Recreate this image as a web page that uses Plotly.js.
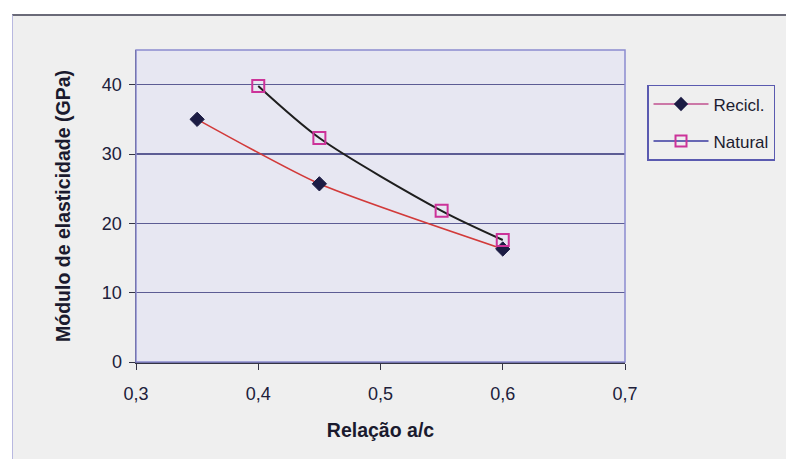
<!DOCTYPE html>
<html>
<head>
<meta charset="utf-8">
<script src="https://cdn.plot.ly/plotly-3.0.1.min.js"></script>
<style>
  html, body { margin: 0; padding: 0; background: #ffffff; }
  #chart {
    position: absolute; left: 12px; top: 14px;
    width: 774px; height: 445px;
    border-top: 2px solid #6a6a78;
    border-left: 1px solid #b8b8e0;
    box-sizing: border-box;
  }
</style>
</head>
<body>
<div id="chart"></div>
<script>
// Relação água/cimento
const relacaoRecicl = [0.35, 0.45, 0.6];
const moduloRecicl = [35, 25.7, 16.3];

const relacaoNatural = [0.4, 0.45, 0.55, 0.6];
const moduloNatural = [39.8, 32.3, 21.8, 17.6];

const xTickVals = [0.3, 0.4, 0.5, 0.6, 0.7];
const xTickText = ['0,3', '0,4', '0,5', '0,6', '0,7'];
const yTickVals = [0, 10, 20, 30, 40];

const seriesNames = ['Recicl.', 'Natural'];

const font = 'Liberation Sans, Arial, sans-serif';

const traces = [
  {
    x: relacaoRecicl, y: moduloRecicl, name: seriesNames[0],
    mode: 'lines+markers', showlegend: false,
    line: { color: '#d23a3a', width: 1.6, shape: 'spline', smoothing: 0.6 },
    marker: { symbol: 'diamond', size: 11, color: '#1c1c44', line: { color: '#1c1c44', width: 1 } }
  },
  {
    x: relacaoNatural, y: moduloNatural, name: seriesNames[1],
    mode: 'lines+markers', showlegend: false,
    line: { color: '#1e1e1e', width: 2, shape: 'spline', smoothing: 0.8 },
    marker: { symbol: 'square-open', size: 12, color: '#cc3399', line: { color: '#cc3399', width: 2 } }
  },
  // legend keys
  {
    x: [null], y: [null], name: seriesNames[0], legendgroup: 'a',
    mode: 'lines+markers',
    line: { color: '#c0508f', width: 1.5 },
    marker: { symbol: 'diamond', size: 11, color: '#1c1c44' }
  },
  {
    x: [null], y: [null], name: seriesNames[1], legendgroup: 'b',
    mode: 'lines+markers',
    line: { color: '#3a3aa0', width: 1.5 },
    marker: { symbol: 'square-open', size: 11, color: '#cc3399', line: { color: '#cc3399', width: 2 } }
  }
];

const titleFont = { size: 19.5, color: '#1a1a2e', family: font, weight: 'bold' };
const tickFont = { size: 18, color: '#20203a', family: font };

const layout = {
  width: 774, height: 445,
  margin: { l: 123, r: 160, t: 34, b: 99 },
  paper_bgcolor: '#efefef',
  plot_bgcolor: '#e7e7f2',
  font: { family: font, color: '#20203a' },
  xaxis: {
    range: [0.3, 0.7],
    tickvals: xTickVals, ticktext: xTickText,
    ticks: 'outside', ticklen: 6, tickcolor: '#333344',
    ticklabelstandoff: 9,
    showgrid: false, zeroline: false,
    showline: true, linecolor: '#333344', linewidth: 1.5,
    tickfont: tickFont,
    title: { text: 'Relação a/c', font: titleFont, standoff: 20 }
  },
  yaxis: {
    range: [0, 45],
    tickvals: yTickVals,
    ticks: 'outside', ticklen: 6, tickcolor: '#333344',
    ticklabelstandoff: 3,
    showgrid: true, gridcolor: '#5c5c94', gridwidth: 1.5,
    zeroline: false,
    showline: true, linecolor: '#333344', linewidth: 1.5,
    tickfont: tickFont,
    title: { text: 'Módulo de elasticidade (GPa)', font: titleFont, standoff: 26 }
  },
  shapes: [
    {
      type: 'rect', xref: 'paper', yref: 'paper', x0: 0, x1: 1, y0: 0, y1: 1,
      line: { color: '#8c8cd0', width: 1.5 }, fillcolor: 'rgba(0,0,0,0)'
    }
  ],
  legend: {
    x: 1.045, y: 0.888, xanchor: 'left', yanchor: 'top',
    bgcolor: '#efefef', bordercolor: '#5a5ab0', borderwidth: 1.5,
    font: { size: 17, color: '#1c1c30', family: font },
    traceorder: 'grouped', tracegroupgap: 12,
    itemwidth: 55
  },
  showlegend: true
};

Plotly.newPlot('chart', traces, layout, { displayModeBar: false, staticPlot: true });
</script>
</body>
</html>
